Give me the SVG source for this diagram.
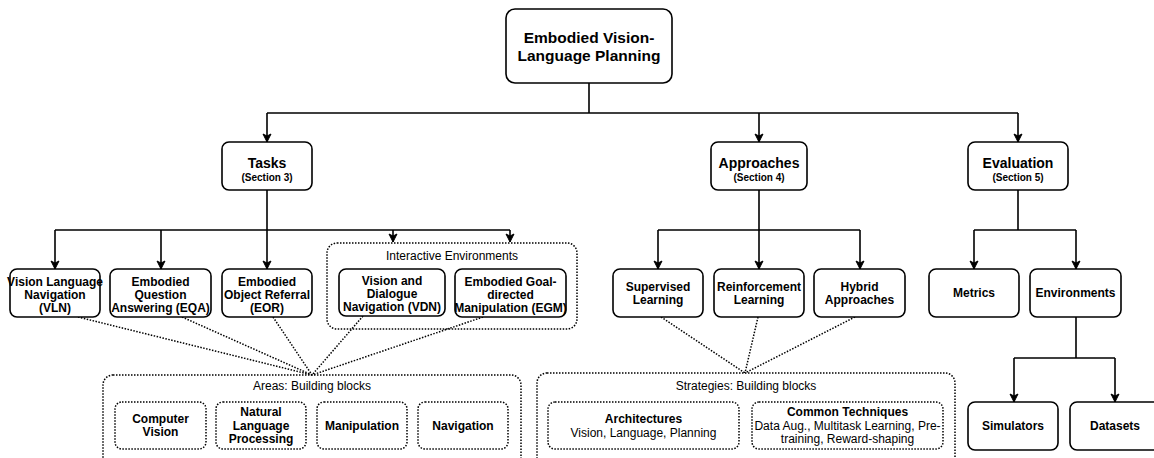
<svg xmlns="http://www.w3.org/2000/svg" width="1154" height="458" viewBox="0 0 1154 458">
<defs>
<marker id="arr" markerUnits="userSpaceOnUse" markerWidth="10" markerHeight="10" viewBox="0 0 10 10" refX="9" refY="5" orient="auto">
<path d="M1,1 L9,5 L1,9 L3,5 z" fill="#000" stroke="#000" stroke-width="1"/>
</marker>
<style>
.box{fill:#fff;stroke:#000;stroke-width:1.6}
.dbox{fill:none;stroke:#000;stroke-width:1.5;stroke-dasharray:1.5 1.5}
.ln{fill:none;stroke:#000;stroke-width:1.6}
.ar{fill:none;stroke:#000;stroke-width:1.6;marker-end:url(#arr)}
.dl{fill:none;stroke:#000;stroke-width:1.5;stroke-dasharray:1.5 1.5}
text{font-family:"Liberation Sans",Arial,Helvetica,sans-serif;fill:#000;text-anchor:middle}
.b{font-weight:bold;font-size:12px}
.big{font-weight:bold;font-size:15.5px}
.mid{font-weight:bold;font-size:14px}
.sec{font-weight:bold;font-size:10px}
.r{font-size:12px}
.s{font-size:12px}
</style>
</defs>
<rect width="1154" height="458" fill="#fff"/>

<g id="connectors">
<path class="ln" d="M589,83 V113 M267,113 H1018"/>
<path class="ar" d="M267,113 V142"/>
<path class="ar" d="M759,113 V142"/>
<path class="ar" d="M1018,113 V142"/>
<path class="ln" d="M267,190 V230 M55,230 H510"/>
<path class="ar" d="M55,230 V269"/>
<path class="ar" d="M161,230 V269"/>
<path class="ar" d="M267,230 V269"/>
<path class="ar" d="M393,230 V242"/>
<path class="ar" d="M510,230 V242"/>
<path class="ln" d="M759,190 V230 M658,230 H860"/>
<path class="ar" d="M658,230 V269"/>
<path class="ar" d="M759,230 V269"/>
<path class="ar" d="M860,230 V269"/>
<path class="ln" d="M1018,190 V230 M974,230 H1076"/>
<path class="ar" d="M974,230 V269"/>
<path class="ar" d="M1076,230 V269"/>
<path class="ln" d="M1076,317 V358 M1014,358 H1115"/>
<path class="ar" d="M1014,358 V402"/>
<path class="ar" d="M1115,358 V402"/>
<path class="dl" d="M78,317 L312,375 M182,317 L312,375 M273,317 L312,375 M363,316 L312,375 M483,317 L312,375"/>
<path class="dl" d="M661,317 L745,373 M758,317 L745,373 M855,317 L745,373"/>
</g>

<g id="root"><rect class="box" x="506" y="9" width="166" height="74" rx="9"/>
<text class="big" x="589" y="43">Embodied Vision-</text><text class="big" x="589" y="61">Language Planning</text></g>

<g id="tasks"><rect class="box" x="222" y="142" width="90" height="48" rx="7"/>
<text class="mid" x="267" y="168">Tasks</text><text class="sec" x="267" y="181">(Section 3)</text></g>
<g id="approaches"><rect class="box" x="711" y="142" width="96" height="48" rx="7"/>
<text class="mid" x="759" y="168">Approaches</text><text class="sec" x="759" y="181">(Section 4)</text></g>
<g id="evaluation"><rect class="box" x="968" y="142" width="100" height="48" rx="7"/>
<text class="mid" x="1018" y="168">Evaluation</text><text class="sec" x="1018" y="181">(Section 5)</text></g>

<g id="vln"><rect class="box" x="10" y="269" width="90" height="48" rx="7"/>
<text class="b" x="55" y="286">Vision Language</text><text class="b" x="55" y="299">Navigation</text><text class="b" x="55" y="312">(VLN)</text></g>
<g id="eqa"><rect class="box" x="110" y="269" width="101" height="48" rx="7"/>
<text class="b" x="160.5" y="286">Embodied</text><text class="b" x="160.5" y="299">Question</text><text class="b" x="160.5" y="312">Answering (EQA)</text></g>
<g id="eor"><rect class="box" x="222" y="269" width="90" height="48" rx="7"/>
<text class="b" x="267" y="286">Embodied</text><text class="b" x="267" y="299">Object Referral</text><text class="b" x="267" y="312">(EOR)</text></g>

<g id="interactive"><rect class="dbox" x="327" y="243" width="250" height="86" rx="10"/>
<text class="r" x="452" y="260">Interactive Environments</text></g>
<g id="vdn"><rect class="box" x="339" y="269" width="106" height="47" rx="7"/>
<text class="b" x="392" y="285">Vision and</text><text class="b" x="392" y="298">Dialogue</text><text class="b" x="392" y="311">Navigation (VDN)</text></g>
<g id="egm"><rect class="box" x="455" y="269" width="111" height="48" rx="7"/>
<text class="b" x="510.5" y="286">Embodied Goal-</text><text class="b" x="510.5" y="299">directed</text><text class="b" x="510.5" y="312">Manipulation (EGM)</text></g>

<g id="supervised"><rect class="box" x="613" y="269" width="90" height="48" rx="7"/>
<text class="b" x="658" y="291">Supervised</text><text class="b" x="658" y="304">Learning</text></g>
<g id="reinforcement"><rect class="box" x="714" y="269" width="90" height="48" rx="7"/>
<text class="b" x="759" y="291">Reinforcement</text><text class="b" x="759" y="304">Learning</text></g>
<g id="hybrid"><rect class="box" x="814" y="269" width="91" height="48" rx="7"/>
<text class="b" x="859.5" y="291">Hybrid</text><text class="b" x="859.5" y="304">Approaches</text></g>

<g id="metrics"><rect class="box" x="929" y="269" width="90" height="48" rx="7"/>
<text class="b" x="974" y="297">Metrics</text></g>
<g id="environments"><rect class="box" x="1030" y="269" width="91" height="48" rx="7"/>
<text class="b" x="1075.5" y="297">Environments</text></g>
<g id="simulators"><rect class="box" x="968" y="402" width="90" height="48" rx="7"/>
<text class="b" x="1013" y="430">Simulators</text></g>
<g id="datasets"><rect class="box" x="1070" y="402" width="90" height="48" rx="7"/>
<text class="b" x="1115" y="430">Datasets</text></g>

<g id="areas"><rect class="dbox" x="103" y="375" width="418" height="100" rx="10"/>
<text class="r" x="312" y="390">Areas: Building blocks</text></g>
<g id="cv"><rect class="dbox" x="115" y="402" width="91" height="47" rx="7"/>
<text class="b" x="160.5" y="423">Computer</text><text class="b" x="160.5" y="436">Vision</text></g>
<g id="nlp"><rect class="dbox" x="216" y="402" width="90" height="47" rx="7"/>
<text class="b" x="261" y="416">Natural</text><text class="b" x="261" y="430">Language</text><text class="b" x="261" y="443">Processing</text></g>
<g id="manipulation"><rect class="dbox" x="317" y="402" width="90" height="47" rx="7"/>
<text class="b" x="362" y="430">Manipulation</text></g>
<g id="navigation"><rect class="dbox" x="418" y="402" width="90" height="47" rx="7"/>
<text class="b" x="463" y="430">Navigation</text></g>

<g id="strategies"><rect class="dbox" x="537" y="373" width="418" height="100" rx="10"/>
<text class="r" x="746" y="390">Strategies: Building blocks</text></g>
<g id="architectures"><rect class="dbox" x="548" y="402" width="191" height="47" rx="7"/>
<text class="b" x="643.5" y="423">Architectures</text><text class="s" x="643.5" y="437">Vision, Language, Planning</text></g>
<g id="techniques"><rect class="dbox" x="752" y="402" width="191" height="47" rx="7"/>
<text class="b" x="847.5" y="416">Common Techniques</text><text class="s" x="847.5" y="430">Data Aug., Multitask Learning, Pre-</text><text class="s" x="847.5" y="443">training, Reward-shaping</text></g>
</svg>
